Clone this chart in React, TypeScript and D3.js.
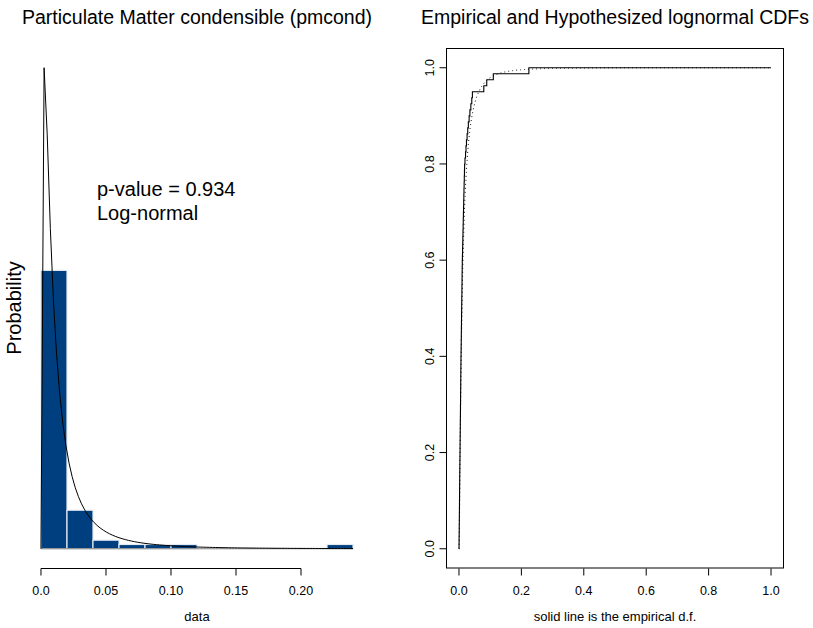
import React from "react";
import * as d3 from "d3";

// ---- data ----
const SAMPLE: number[] = [
  0.0002, 0.0004, 0.0006, 0.0008, 0.001, 0.0012, 0.0014, 0.0016, 0.0018, 0.0019, 0.0021, 0.0023, 0.0025, 0.0027, 0.0029, 0.0032,
  0.0034, 0.0036, 0.0038, 0.004, 0.0042, 0.0044, 0.0046, 0.0048, 0.005, 0.0052, 0.0054, 0.0056, 0.0058, 0.006, 0.0062, 0.0064,
  0.0067, 0.007, 0.0072, 0.0075, 0.0077, 0.008, 0.0082, 0.0085, 0.0087, 0.009, 0.0093, 0.0095, 0.0098, 0.01, 0.0103, 0.0106,
  0.011, 0.0115, 0.0119, 0.0124, 0.0128, 0.0133, 0.0137, 0.0142, 0.0146, 0.0151, 0.0155, 0.016, 0.0165, 0.017, 0.0175, 0.018,
  0.0192,
  0.021, 0.0225, 0.024, 0.026, 0.028, 0.03, 0.0325,
  0.035, 0.038,
  0.041, 0.043, 0.0795, 0.089, 0.11, 0.224,
];
const BREAKS = [0, 0.02, 0.04, 0.06, 0.08, 0.1, 0.12, 0.14, 0.16, 0.18, 0.2, 0.22, 0.24];
const MEANLOG = -4.65;
const SDLOG = 1.15;
const P_VALUE = "0.934";
const DIST_NAME = "Log-normal";
const LEFT_TICKS = [0, 0.05, 0.1, 0.15, 0.2];
const LEFT_TICK_LABELS = ["0.0", "0.05", "0.10", "0.15", "0.20"];
const RIGHT_TICKS = [0, 0.2, 0.4, 0.6, 0.8, 1.0];
const RIGHT_TICK_LABELS = ["0.0", "0.2", "0.4", "0.6", "0.8", "1.0"];
const TITLE_LEFT = "Particulate Matter condensible (pmcond)";
const TITLE_RIGHT = "Empirical and Hypothesized lognormal CDFs";
const XLAB_LEFT = "data";
const XLAB_RIGHT = "solid line is the empirical d.f.";
const YLAB_LEFT = "Probability";

const FONT = "'Liberation Sans', Arial, Helvetica, sans-serif";
const BAR_FILL = "#003f7f";

function erf(x: number): number {
  const s = Math.sign(x);
  const a = Math.abs(x);
  const t = 1 / (1 + 0.3275911 * a);
  const y = 1 - (((((1.061405429 * t - 1.453152027) * t) + 1.421413741) * t - 0.284496736) * t + 0.254829592) * t * Math.exp(-a * a);
  return s * y;
}
const dlnorm = (x: number) =>
  x <= 0 ? 0 : Math.exp(-Math.pow(Math.log(x) - MEANLOG, 2) / (2 * SDLOG * SDLOG)) / (x * SDLOG * Math.sqrt(2 * Math.PI));
const plnorm = (x: number) => (x <= 0 ? 0 : 0.5 * (1 + erf((Math.log(x) - MEANLOG) / (SDLOG * Math.SQRT2))));

export default function App() {
  const n = SAMPLE.length;
  const lo = BREAKS[0];
  const hi = BREAKS[BREAKS.length - 1];

  // ---------- left panel ----------
  const bins = d3.bin().domain([lo, hi]).thresholds(BREAKS.slice(1, -1))(SAMPLE);
  const curveX = d3.range(101).map((i) => lo + (i * (hi - lo)) / 100);
  const curvePts = curveX.map((x) => [x, dlnorm(x)] as [number, number]);
  const ymax = d3.max(curvePts, (d) => d[1]) as number;
  const padX = (hi - lo) * 0.04;
  const xL = d3.scaleLinear().domain([lo - padX, hi + padX]).range([28.5, 365.5]);
  const yL = d3.scaleLinear().domain([-0.04 * ymax, 1.04 * ymax]).range([568, 48.5]);
  const densLine = d3.line<[number, number]>().x((d) => xL(d[0])).y((d) => yL(d[1]))(curvePts) as string;

  // ---------- right panel ----------
  const xR = d3.scaleLinear().domain([-0.04, 1.04]).range([446.5, 783.5]);
  const yR = d3.scaleLinear().domain([-0.04, 1.04]).range([568, 48.5]);
  const sorted = [...SAMPLE].sort((a, b) => a - b);
  const ecdfPts: [number, number][] = [[0, 0], ...sorted.map((x, i) => [x, (i + 1) / n] as [number, number]), [1, 1]];
  const ecdfPath = d3
    .line<[number, number]>()
    .x((d) => xR(d[0]))
    .y((d) => yR(d[1]))
    .curve(d3.curveStepAfter)(ecdfPts) as string;
  const gridX = d3.range(0, 2001).map((i) => i / 2000);
  const theoPts = gridX.map((x) => [x, plnorm(x)] as [number, number]);
  const theoPath = d3.line<[number, number]>().x((d) => xR(d[0])).y((d) => yR(d[1]))(theoPts) as string;

  const axisY = 568.5;

  return (
    <svg
      width={813}
      height={628}
      style={{ position: "absolute", left: 0, top: 0, background: "#fff" }}
      fontFamily={FONT}
    >
      <rect x={0} y={0} width={813} height={628} fill="#fff" />
      {/* titles */}
      <text x={197} y={23.5} fontSize={19.5} textAnchor="middle" fill="#000">{TITLE_LEFT}</text>
      <text x={615} y={23.5} fontSize={19.5} textAnchor="middle" fill="#000">{TITLE_RIGHT}</text>

      {/* ---- left: histogram ---- */}
      {bins.map((b, i) => {
        const dens = b.length / (n * ((b.x1 as number) - (b.x0 as number)));
        if (b.length === 0) return null;
        const x0 = xL(b.x0 as number);
        const x1 = xL(b.x1 as number);
        return (
          <rect
            key={i}
            x={x0}
            y={yL(dens)}
            width={x1 - x0}
            height={yL(0) - yL(dens)}
            fill={BAR_FILL}
            stroke="#e4eaf1"
            strokeWidth={1.2}
          />
        );
      })}
      <line x1={xL(lo)} x2={xL(hi)} y1={yL(0)} y2={yL(0)} stroke="#808080" strokeWidth={1} />
      <path d={densLine} fill="none" stroke="#000" strokeWidth={1} />
      <text x={97} y={196} fontSize={20} fill="#000">{`p-value = ${P_VALUE}`}</text>
      <text x={97} y={220} fontSize={20} fill="#000">{DIST_NAME}</text>
      {/* left x axis */}
      <line x1={xL(LEFT_TICKS[0])} x2={xL(LEFT_TICKS[LEFT_TICKS.length - 1])} y1={axisY} y2={axisY} stroke="#000" />
      {LEFT_TICKS.map((t, i) => (
        <g key={i}>
          <line x1={xL(t)} x2={xL(t)} y1={axisY} y2={axisY + 7} stroke="#000" />
          <text x={xL(t)} y={595} fontSize={12.5} textAnchor="middle" fill="#000">{LEFT_TICK_LABELS[i]}</text>
        </g>
      ))}
      <text x={197} y={621} fontSize={13} textAnchor="middle" fill="#000">{XLAB_LEFT}</text>
      <text transform="translate(21,308) rotate(-90)" fontSize={20} textAnchor="middle" fill="#000">{YLAB_LEFT}</text>

      {/* ---- right: CDFs ---- */}
      <path d={theoPath} fill="none" stroke="#000" strokeWidth={1} strokeDasharray="1 3" />
      <path d={ecdfPath} fill="none" stroke="#000" strokeWidth={1.1} />
      <rect x={446.5} y={48.5} width={337} height={519.5} fill="none" stroke="#000" strokeWidth={1} />
      {RIGHT_TICKS.map((t, i) => (
        <g key={"x" + i}>
          <line x1={xR(t)} x2={xR(t)} y1={axisY} y2={axisY + 7} stroke="#000" />
          <text x={xR(t)} y={595} fontSize={12.5} textAnchor="middle" fill="#000">{RIGHT_TICK_LABELS[i]}</text>
        </g>
      ))}
      {RIGHT_TICKS.map((t, i) => (
        <g key={"y" + i}>
          <line x1={446.5} x2={439.5} y1={yR(t)} y2={yR(t)} stroke="#000" />
          <text transform={`translate(434,${yR(t)}) rotate(-90)`} fontSize={12.5} textAnchor="middle" fill="#000">
            {RIGHT_TICK_LABELS[i]}
          </text>
        </g>
      ))}
      <text x={615} y={621} fontSize={13} textAnchor="middle" fill="#000">{XLAB_RIGHT}</text>
    </svg>
  );
}
